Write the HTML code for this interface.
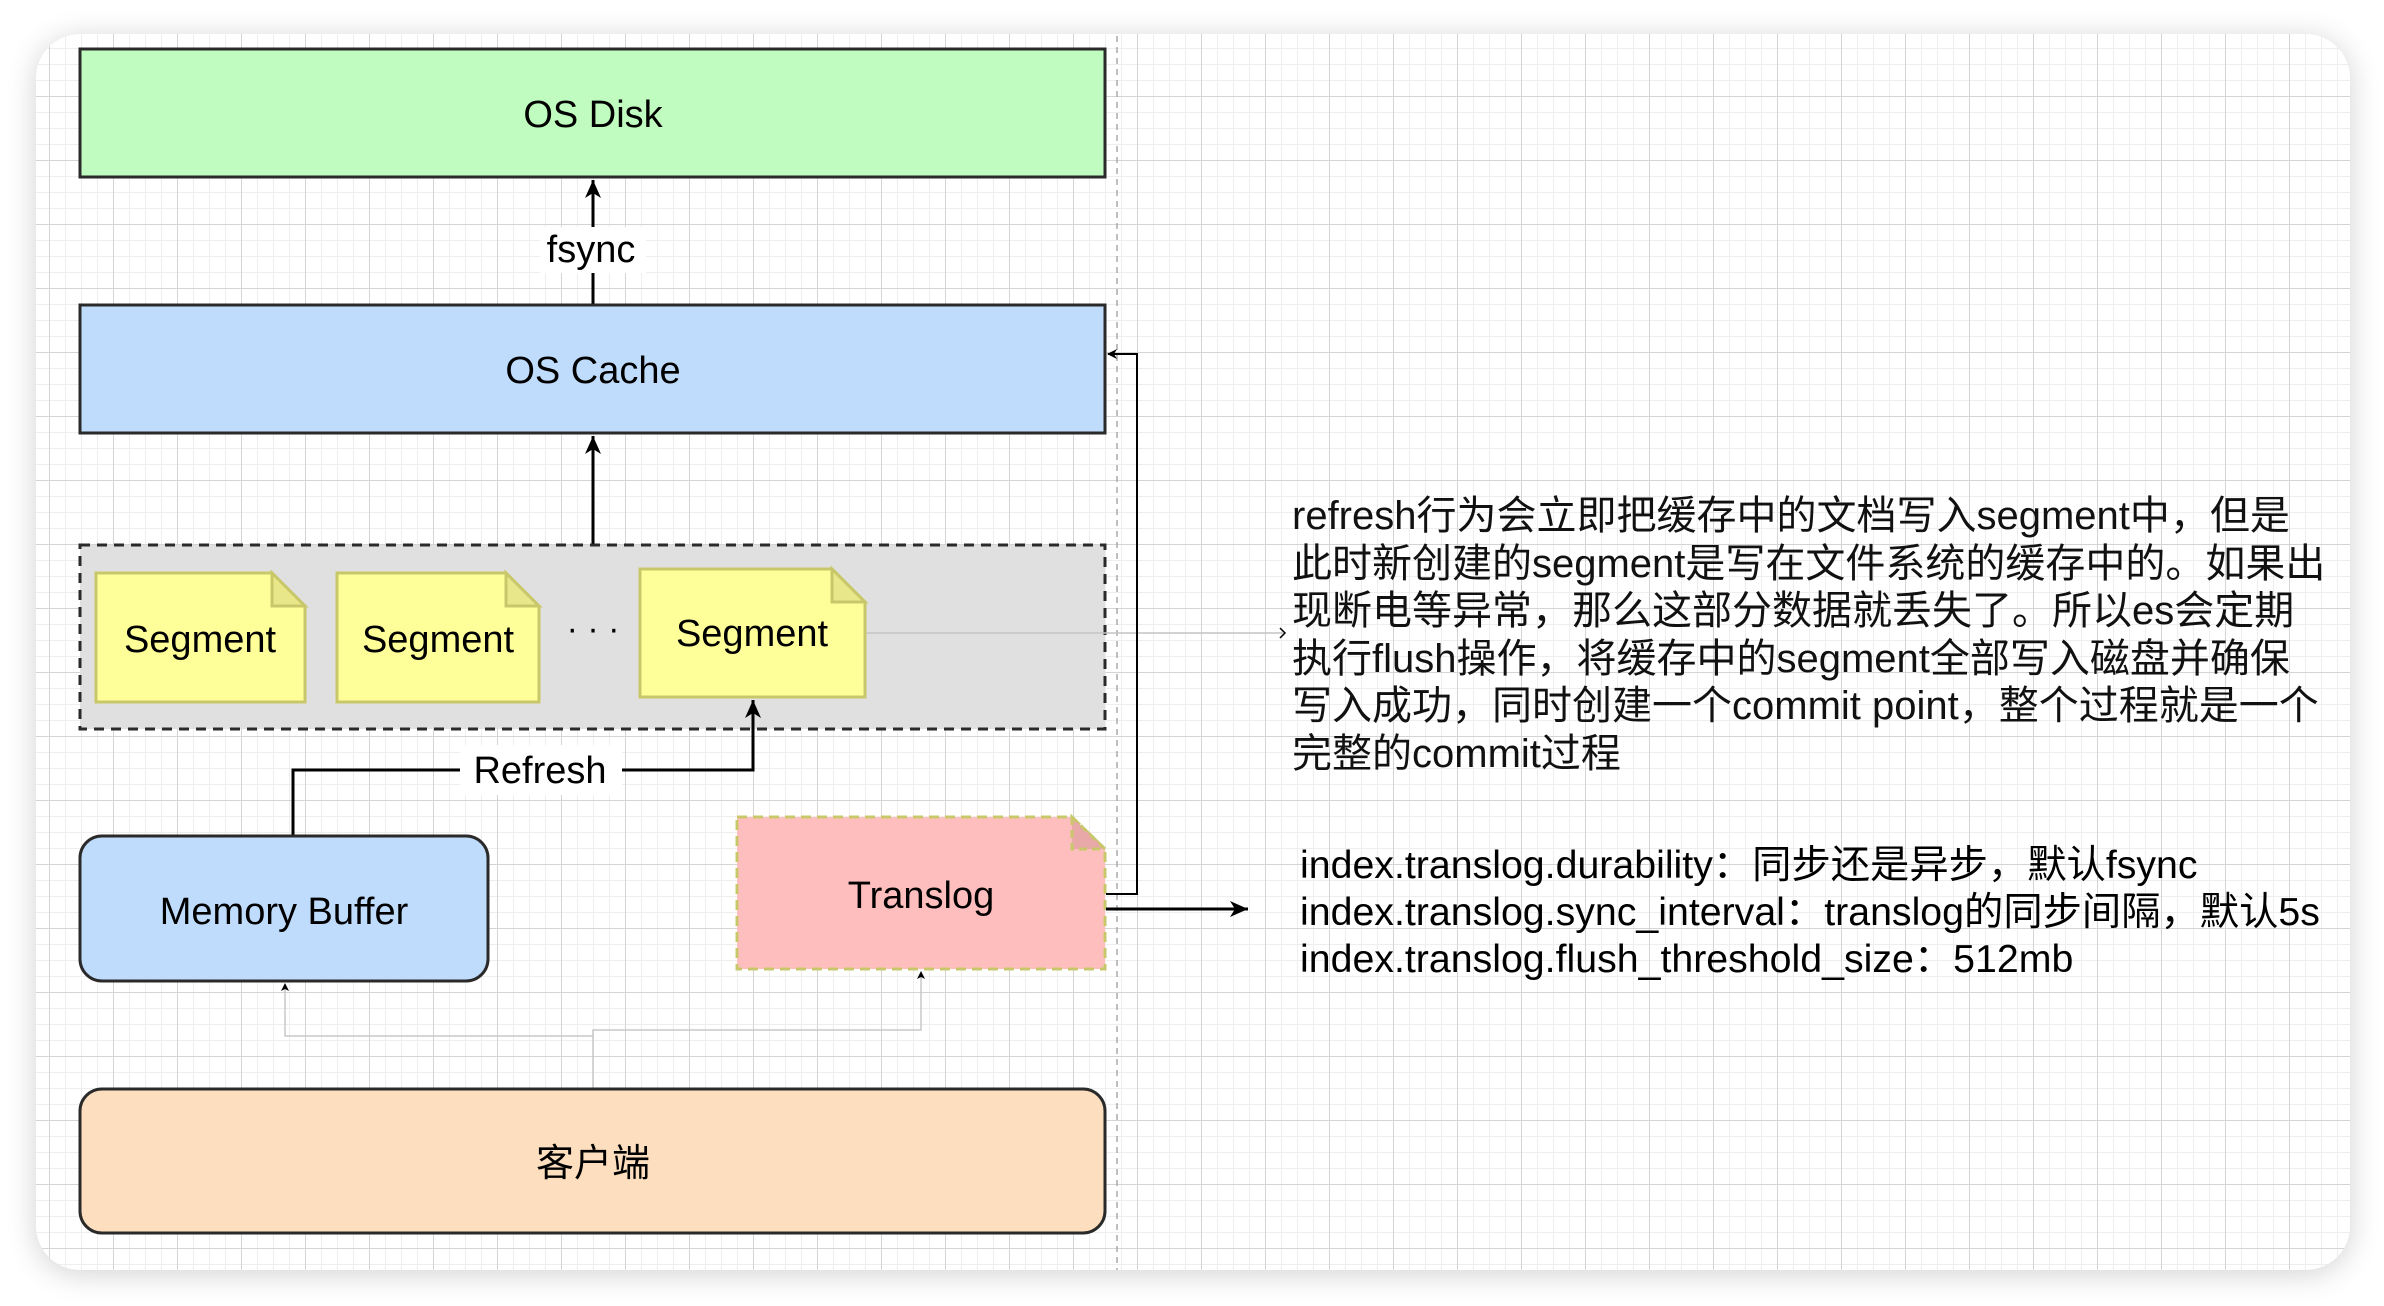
<!DOCTYPE html>
<html><head><meta charset="utf-8"><style>
html,body{margin:0;padding:0;width:2384px;height:1306px;background:#fff;overflow:hidden}
.card{position:absolute;left:36px;top:34px;width:2314px;height:1236px;border-radius:44px;
background-color:#fff;
background-image:
linear-gradient(to right,#d4d4d4 1px,transparent 1px),
linear-gradient(to bottom,#d4d4d4 1px,transparent 1px),
linear-gradient(to right,#eeeeee 1px,transparent 1px),
linear-gradient(to bottom,#eeeeee 1px,transparent 1px);
background-size:64px 64px,64px 64px,16px 16px,16px 16px;
background-position:13px -2px,13px -2px,13px -2px,13px -2px;
box-shadow:0 4px 30px rgba(0,0,0,0.18);}
svg{position:absolute;left:0;top:0}
text{font-family:"Liberation Sans","Noto Sans CJK SC",sans-serif;fill:#000}
.t{position:absolute;font-family:"Liberation Sans","Noto Sans CJK SC",sans-serif;color:#111;white-space:nowrap}
</style></head><body>
<div class="card"></div>
<svg width="2384" height="1306" viewBox="0 0 2384 1306">
<defs>
<marker id="a" markerWidth="10" markerHeight="10" refX="9" refY="5" orient="auto" markerUnits="userSpaceOnUse"><path d="M0,0 L10,5 L0,10 L3,5 Z" fill="#000"/></marker>
<marker id="b" markerWidth="20" markerHeight="16" refX="18" refY="8" orient="auto" markerUnits="userSpaceOnUse"><path d="M0,0 L18,8 L0,16 L5,8 Z" fill="#000"/></marker>
<marker id="s" markerWidth="8" markerHeight="8" refX="7" refY="4" orient="auto" markerUnits="userSpaceOnUse"><path d="M0,0 L8,4 L0,8 L2,4 Z" fill="#000"/></marker>
</defs>
<line x1="1117" y1="36" x2="1117" y2="1270" stroke="#aaa" stroke-width="1.5" stroke-dasharray="6,5"/>
<rect x="80" y="49" width="1025" height="128" fill="#c0fcc0" stroke="#2a2a2a" stroke-width="3"/>
<text x="593" y="127" font-size="38" text-anchor="middle">OS Disk</text>
<line x1="593" y1="305" x2="593" y2="180" stroke="#000" stroke-width="3" marker-end="url(#b)"/>
<rect x="540" y="227" width="106" height="46" fill="#fff"/>
<text x="591" y="262" font-size="38" text-anchor="middle">fsync</text>
<rect x="80" y="305" width="1025" height="128" fill="#c0dcfc" stroke="#2a2a2a" stroke-width="3"/>
<text x="593" y="383" font-size="38" text-anchor="middle">OS Cache</text>
<line x1="593" y1="544" x2="593" y2="436" stroke="#000" stroke-width="3" marker-end="url(#b)"/>
<rect x="80" y="545" width="1025" height="184" fill="#e0e0e0" stroke="#2a2a2a" stroke-width="3" stroke-dasharray="10,7"/>
<line x1="865" y1="633" x2="1283" y2="633" stroke="#c4c4c4" stroke-width="1.5"/>
<path d="M1280,628 L1285,633 L1280,638" fill="none" stroke="#000" stroke-width="1.5"/>
<g stroke="#c8c86a" stroke-width="3">
<path d="M96,573 H272 L305,606 V702 H96 Z" fill="#ffff99"/><path d="M272,573 V606 H305 Z" fill="#e8e88a"/>
<path d="M337,573 H506 L539,606 V702 H337 Z" fill="#ffff99"/><path d="M506,573 V606 H539 Z" fill="#e8e88a"/>
<path d="M640,569 H832 L865,602 V697 H640 Z" fill="#ffff99"/><path d="M832,569 V602 H865 Z" fill="#e8e88a"/>
</g>
<text x="200" y="652" font-size="38" text-anchor="middle">Segment</text>
<text x="438" y="652" font-size="38" text-anchor="middle">Segment</text>
<text x="752" y="646" font-size="38" text-anchor="middle">Segment</text>
<text x="593" y="640" font-size="34" text-anchor="middle">· · ·</text>
<polyline points="293,836 293,770 753,770 753,700" fill="none" stroke="#000" stroke-width="3" marker-end="url(#b)"/>
<rect x="460" y="745" width="162" height="50" fill="#fff"/>
<text x="540" y="783" font-size="38" text-anchor="middle">Refresh</text>
<rect x="80" y="836" width="408" height="145" rx="22" fill="#c0dcfc" stroke="#2a2a2a" stroke-width="3"/>
<text x="284" y="924" font-size="38" text-anchor="middle">Memory Buffer</text>
<path d="M737,817 H1072 L1105,849 V969 H737 Z" fill="#ffbebe" stroke="#c8c86a" stroke-width="3" stroke-dasharray="10,6"/>
<path d="M1072,817 V849 H1105 Z" fill="#e8a8a8" stroke="#c8c86a" stroke-width="3" stroke-dasharray="8,5"/>
<text x="921" y="908" font-size="38" text-anchor="middle">Translog</text>
<polyline points="1106,894 1137,894 1137,354 1108,354" fill="none" stroke="#000" stroke-width="2" marker-end="url(#a)"/>
<line x1="1106" y1="909" x2="1248" y2="909" stroke="#000" stroke-width="3" marker-end="url(#b)"/>
<polyline points="593,1088 593,1036 285,1036 285,984" fill="none" stroke="#c8c8c8" stroke-width="1.5" marker-end="url(#s)"/>
<polyline points="593,1036 593,1030 921,1030 921,972" fill="none" stroke="#c8c8c8" stroke-width="1.5" marker-end="url(#s)"/>
<rect x="80" y="1089" width="1025" height="144" rx="22" fill="#fddebf" stroke="#2a2a2a" stroke-width="3"/>
<text x="593" y="1176" font-size="38" text-anchor="middle">客户端</text>
</svg>
<div class="t" style="left:1292px;top:493px;font-size:40px;line-height:47.6px">refresh行为会立即把缓存中的文档写入segment中，但是<br>此时新创建的segment是写在文件系统的缓存中的。如果出<br>现断电等异常，那么这部分数据就丢失了。所以es会定期<br>执行flush操作，将缓存中的segment全部写入磁盘并确保<br>写入成功，同时创建一个commit point，整个过程就是一个<br>完整的commit过程</div>
<div class="t" style="left:1300px;top:842px;font-size:39.3px;line-height:46.8px;color:#000">index.translog.durability：同步还是异步，默认fsync<br>index.translog.sync_interval：translog的同步间隔，默认5s<br>index.translog.flush_threshold_size：512mb</div>
</body></html>
